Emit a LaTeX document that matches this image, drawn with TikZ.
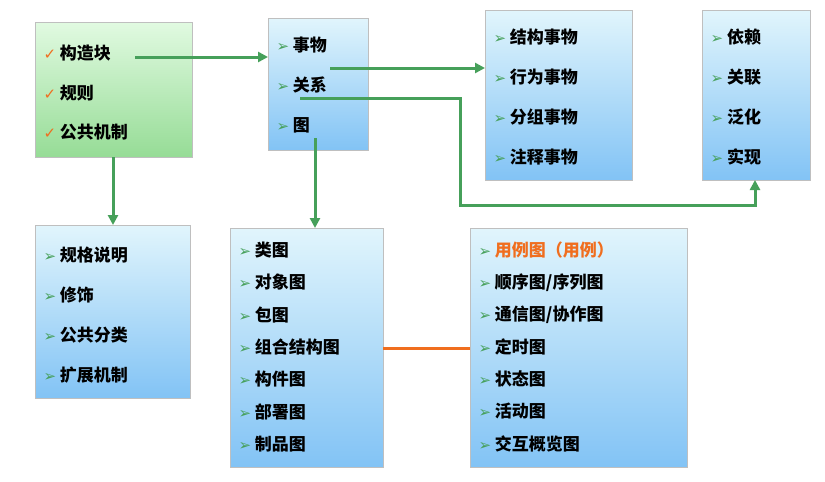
\documentclass[tikz,border=0pt]{standalone}
\usepackage{fontspec}
\setmainfont{Noto Sans CJK SC}
\newfontfamily\dv{DejaVu Sans}
\usetikzlibrary{arrows.meta}
\definecolor{gr}{RGB}{70,160,90}
\definecolor{orng}{RGB}{240,110,30}
\definecolor{btop}{RGB}{225,245,252}
\definecolor{bbot}{RGB}{130,195,245}
\definecolor{gtop}{RGB}{225,250,225}
\definecolor{gbot}{RGB}{150,220,150}
\tikzset{x=1pt,y=-1pt,
 bbox/.style={draw=gray!50,line width=0.8pt,top color=btop,bottom color=bbot},
 gbox/.style={draw=gray!50,line width=0.8pt,top color=gtop,bottom color=gbot},
 it/.style={anchor=west,font=\fontsize{17}{17}\selectfont\bfseries},
 con/.style={draw=gr,line width=3pt,-{Triangle[length=10pt,width=10pt]}}}
\newcommand{\bl}{{\dv\color{gr}\fontsize{15}{15}\selectfont ➢}\ }
\newcommand{\ck}{{\dv\color{orng}\fontsize{15}{15}\selectfont ✓}\ }
\begin{document}
\begin{tikzpicture}
\useasboundingbox (0,0) rectangle (825,482);
\fill[white] (0,0) rectangle (825,482);
\draw[gbox] (35,22) rectangle (192,157);
\draw[bbox] (268,18) rectangle (368,150);
\draw[bbox] (485,10) rectangle (632,180);
\draw[bbox] (702,10) rectangle (810,180);
\draw[bbox] (35,225) rectangle (190,398);
\draw[bbox] (230,228) rectangle (383,467);
\draw[bbox] (470,228) rectangle (687,467);
\node[it] (a1) at (40,53) {\ck 构造块};
\node[it] (a2) at (40,93) {\ck 规则};
\node[it] (a3) at (40,132) {\ck 公共机制};
\node[it] (b1) at (273,45) {\bl 事物};
\node[it] (b2) at (273,85) {\bl 关系};
\node[it] (b3) at (273,125) {\bl 图};
\foreach \t [count=\i] in {结构事物,行为事物,分组事物,注释事物}
 \node[it] (c\i) at (490,37+40*\i-40) {\bl \t};
\foreach \t [count=\i] in {依赖,关联,泛化,实现}
 \node[it] (d\i) at (707,37+40*\i-40) {\bl \t};
\foreach \t [count=\i] in {规格说明,修饰,公共分类,扩展机制}
 \node[it] (e\i) at (40,255+40*\i-40) {\bl \t};
\foreach \t [count=\i] in {类图,对象图,包图,组合结构图,构件图,部署图,制品图}
 \node[it] (f\i) at (235,250+32.3*\i-32.3) {\bl \t};
\node[it] (g1) at (475,250) {\bl \textcolor{orng}{用例图（用例）}};
\foreach \t [count=\i from 2] in {顺序图/序列图,通信图/协作图,定时图,状态图,活动图,交互概览图}
 \node[it] (g\i) at (475,250+32.3*\i-32.3) {\bl \t};
\coordinate (p1) at (135,57); \coordinate (p2) at (268,57);
\draw[con] (p1) -- (p2);
\coordinate (q1) at (330,68); \coordinate (q2) at (485,68);
\draw[con] (q1) -- (q2);
\coordinate (r1) at (300,98); \coordinate (r2) at (460,98);
\coordinate (r3) at (460,205); \coordinate (r4) at (755,205); \coordinate (r5) at (755,180);
\draw[con] (r1) -- (r2) -- (r3) -- (r4) -- (r5);
\coordinate (s1) at (315,138); \coordinate (s2) at (315,228);
\draw[con] (s1) -- (s2);
\coordinate (t1) at (113,157); \coordinate (t2) at (113,225);
\draw[con] (t1) -- (t2);
\coordinate (u1) at (383,348); \coordinate (u2) at (470,348);
\draw[orng,line width=3pt] (u1) -- (u2);
\end{tikzpicture}
\end{document}
